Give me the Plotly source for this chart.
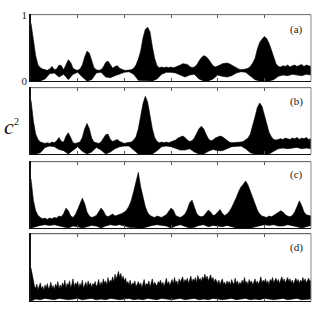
import numpy as np
import plotly.graph_objects as go

# sample grids (time units)
t_up = [round(i * 0.05, 2) for i in range(121)]
t_lo = [round(i * 0.1, 1) for i in range(61)]
t_fine = [round(i * 0.025, 3) for i in range(241)]

a_up = [0.87, 0.62, 0.38, 0.24, 0.20, 0.18, 0.17, 0.16, 0.18, 0.22,
        0.17, 0.18, 0.24, 0.23, 0.17, 0.24, 0.32, 0.28, 0.19, 0.17,
        0.16, 0.18, 0.24, 0.36, 0.45, 0.42, 0.30, 0.20, 0.17, 0.16,
        0.17, 0.21, 0.28, 0.30, 0.25, 0.19, 0.22, 0.23, 0.19, 0.17,
        0.16, 0.16, 0.16, 0.17, 0.19, 0.24, 0.33, 0.45, 0.65, 0.78,
        0.81, 0.74, 0.52, 0.34, 0.23, 0.20, 0.21, 0.20, 0.21, 0.20,
        0.21, 0.20, 0.21, 0.22, 0.24, 0.26, 0.26, 0.25, 0.22, 0.20,
        0.21, 0.24, 0.30, 0.35, 0.38, 0.37, 0.33, 0.28, 0.23, 0.21,
        0.22, 0.24, 0.26, 0.27, 0.27, 0.26, 0.24, 0.21, 0.19, 0.18,
        0.17, 0.17, 0.18, 0.19, 0.22, 0.27, 0.34, 0.48, 0.58, 0.63,
        0.67, 0.64, 0.57, 0.47, 0.35, 0.26, 0.22, 0.21, 0.23, 0.22,
        0.24, 0.21, 0.23, 0.24, 0.22, 0.23, 0.25, 0.22, 0.24, 0.23, 0.22]
a_lo = [0.0, 0.0, 0.0, 0.03, 0.11, 0.12, 0.06, 0.10, 0.02, 0.10,
        0.13, 0.06, 0.0, 0.02, 0.12, 0.13, 0.06, 0.05, 0.08, 0.11,
        0.13, 0.14, 0.10, 0.01, 0.0, 0.0, 0.0, 0.03, 0.10, 0.13,
        0.13, 0.12, 0.09, 0.06, 0.09, 0.10, 0.03, 0.0, 0.0, 0.03,
        0.09, 0.07, 0.06, 0.08, 0.12, 0.14, 0.13, 0.08, 0.02, 0.0,
        0.0, 0.0, 0.02, 0.07, 0.09, 0.08, 0.10, 0.09, 0.08, 0.10, 0.09]

b_up = [0.81, 0.50, 0.30, 0.22, 0.18, 0.17, 0.16, 0.17, 0.16, 0.18,
        0.17, 0.20, 0.25, 0.19, 0.18, 0.27, 0.32, 0.25, 0.17, 0.16,
        0.17, 0.18, 0.25, 0.38, 0.46, 0.38, 0.24, 0.18, 0.17, 0.16,
        0.18, 0.23, 0.29, 0.30, 0.22, 0.19, 0.21, 0.22, 0.19, 0.17,
        0.16, 0.17, 0.17, 0.18, 0.21, 0.26, 0.38, 0.55, 0.76, 0.87,
        0.78, 0.58, 0.38, 0.25, 0.19, 0.17, 0.18, 0.17, 0.18, 0.17,
        0.18, 0.19, 0.21, 0.24, 0.26, 0.27, 0.25, 0.21, 0.19, 0.20,
        0.24, 0.31, 0.38, 0.42, 0.38, 0.30, 0.23, 0.20, 0.21, 0.24,
        0.26, 0.27, 0.26, 0.23, 0.20, 0.18, 0.17, 0.17, 0.18, 0.17,
        0.18, 0.19, 0.21, 0.24, 0.30, 0.42, 0.56, 0.70, 0.77, 0.72,
        0.60, 0.46, 0.33, 0.26, 0.22, 0.21, 0.22, 0.23, 0.22, 0.24,
        0.23, 0.22, 0.24, 0.23, 0.25, 0.22, 0.24, 0.23, 0.25, 0.22, 0.23]
b_lo = [0.0, 0.0, 0.02, 0.10, 0.12, 0.11, 0.07, 0.05, 0.0, 0.06,
        0.11, 0.04, 0.0, 0.03, 0.10, 0.06, 0.0, 0.03, 0.08, 0.11,
        0.12, 0.12, 0.06, 0.0, 0.0, 0.0, 0.0, 0.05, 0.11, 0.12,
        0.11, 0.09, 0.06, 0.06, 0.08, 0.03, 0.0, 0.0, 0.04, 0.07,
        0.05, 0.05, 0.08, 0.11, 0.12, 0.12, 0.08, 0.02, 0.0, 0.0,
        0.0, 0.0, 0.04, 0.08, 0.09, 0.08, 0.09, 0.10, 0.08, 0.09, 0.08]

c_up = [0.74, 0.42, 0.26, 0.19, 0.16, 0.14, 0.15, 0.13, 0.15, 0.14,
        0.16, 0.15, 0.18, 0.17, 0.22, 0.30, 0.26, 0.18, 0.16, 0.20,
        0.28, 0.38, 0.45, 0.37, 0.24, 0.18, 0.16, 0.17, 0.19, 0.24,
        0.30, 0.26, 0.19, 0.17, 0.19, 0.21, 0.18, 0.19, 0.20, 0.22,
        0.24, 0.27, 0.33, 0.42, 0.55, 0.70, 0.84, 0.62, 0.45, 0.32,
        0.23, 0.19, 0.17, 0.16, 0.18, 0.17, 0.16, 0.18, 0.20, 0.25,
        0.30, 0.27, 0.19, 0.17, 0.16, 0.18, 0.21, 0.28, 0.38, 0.42,
        0.32, 0.22, 0.18, 0.17, 0.18, 0.22, 0.27, 0.24, 0.19, 0.20,
        0.24, 0.28, 0.22, 0.19, 0.21, 0.25, 0.31, 0.38, 0.46, 0.55,
        0.62, 0.66, 0.71, 0.65, 0.55, 0.44, 0.35, 0.27, 0.21, 0.18,
        0.17, 0.16, 0.18, 0.17, 0.19, 0.21, 0.24, 0.26, 0.24, 0.20,
        0.18, 0.17, 0.19, 0.24, 0.32, 0.41, 0.34, 0.24, 0.20, 0.19, 0.18]
c_lo = [0.0, 0.02, 0.04, 0.05, 0.04, 0.05, 0.04, 0.02, 0.0, 0.03,
        0.02, 0.0, 0.02, 0.04, 0.03, 0.0, 0.03, 0.05, 0.04, 0.05,
        0.03, 0.01, 0.0, 0.0, 0.0, 0.02, 0.04, 0.05, 0.04, 0.03,
        0.0, 0.03, 0.05, 0.03, 0.0, 0.01, 0.04, 0.05, 0.02, 0.04,
        0.03, 0.02, 0.04, 0.02, 0.0, 0.0, 0.0, 0.0, 0.01, 0.03,
        0.05, 0.04, 0.05, 0.03, 0.03, 0.05, 0.04, 0.02, 0.0, 0.02, 0.04]

# panel (d) is noisy: upper envelope read on the finer grid
d_up = [0.49, 0.38, 0.28, 0.22, 0.19, 0.25, 0.17, 0.21, 0.27, 0.18,
        0.22, 0.16, 0.24, 0.19, 0.26, 0.18, 0.21, 0.28, 0.19, 0.23,
        0.17, 0.25, 0.21, 0.29, 0.18, 0.24, 0.20, 0.27, 0.22, 0.31,
        0.19, 0.26, 0.23, 0.30, 0.20, 0.25, 0.33, 0.21, 0.27, 0.24,
        0.29, 0.20, 0.26, 0.22, 0.31, 0.19, 0.25, 0.28, 0.21, 0.30,
        0.23, 0.27, 0.20, 0.26, 0.24, 0.29, 0.21, 0.25, 0.32, 0.22,
        0.28, 0.24, 0.33, 0.26, 0.30, 0.23, 0.35, 0.27, 0.31, 0.29,
        0.36, 0.28, 0.40, 0.33, 0.38, 0.44, 0.35, 0.41, 0.32, 0.37,
        0.30, 0.34, 0.26, 0.29, 0.24, 0.31, 0.22, 0.27, 0.25, 0.30,
        0.21, 0.26, 0.29, 0.23, 0.27, 0.20, 0.25, 0.32, 0.22, 0.26,
        0.24, 0.30, 0.21, 0.27, 0.33, 0.23, 0.28, 0.25, 0.22, 0.29,
        0.26, 0.31, 0.24, 0.28, 0.22, 0.27, 0.34, 0.25, 0.29, 0.23,
        0.28, 0.32, 0.25, 0.35, 0.27, 0.30, 0.24, 0.33, 0.28, 0.31,
        0.36, 0.27, 0.32, 0.29, 0.34, 0.26, 0.31, 0.37, 0.28, 0.33,
        0.30, 0.35, 0.27, 0.38, 0.31, 0.34, 0.29, 0.36, 0.32, 0.40,
        0.33, 0.37, 0.30, 0.34, 0.39, 0.31, 0.35, 0.28, 0.33, 0.30,
        0.26, 0.31, 0.24, 0.29, 0.33, 0.25, 0.28, 0.23, 0.30, 0.26,
        0.29, 0.24, 0.32, 0.27, 0.25, 0.34, 0.26, 0.30, 0.23, 0.28,
        0.25, 0.31, 0.27, 0.35, 0.26, 0.29, 0.24, 0.32, 0.27, 0.30,
        0.24, 0.28, 0.33, 0.26, 0.30, 0.25, 0.29, 0.36, 0.27, 0.31,
        0.28, 0.33, 0.26, 0.30, 0.24, 0.32, 0.29, 0.35, 0.27, 0.31,
        0.34, 0.28, 0.32, 0.26, 0.30, 0.36, 0.29, 0.33, 0.27, 0.31,
        0.35, 0.29, 0.33, 0.27, 0.31, 0.25, 0.30, 0.34, 0.28, 0.32,
        0.26, 0.31, 0.28, 0.35, 0.29, 0.33, 0.27, 0.30, 0.34, 0.29, 0.31]
d_lo = [0.0, 0.03, 0.02, 0.04, 0.03, 0.02, 0.04, 0.03, 0.02, 0.03,
        0.04, 0.02, 0.03, 0.04, 0.02, 0.03, 0.02, 0.04, 0.03, 0.02,
        0.03, 0.04, 0.02, 0.03, 0.02, 0.04, 0.03, 0.02, 0.04, 0.03,
        0.02, 0.03, 0.04, 0.02, 0.03, 0.04, 0.02, 0.03, 0.02, 0.04,
        0.03, 0.02, 0.03, 0.04, 0.02, 0.03, 0.04, 0.02, 0.03, 0.02,
        0.04, 0.03, 0.02, 0.03, 0.04, 0.02, 0.03, 0.04, 0.02, 0.03, 0.03]

panels = [("(a)", t_up, a_up, a_lo), ("(b)", t_up, b_up, b_lo),
          ("(c)", t_up, c_up, c_lo), ("(d)", t_fine, d_up, d_lo)]

W, H = 314, 309
rows_px = [(9, 78), (85, 154), (162, 231), (237, 307)]
x_dom = [31 / W, 311 / W]

fig = go.Figure()
SERIF = "Liberation Serif, Times New Roman, serif"
DARK = "#111111"
LIGHT = "#8a8a8a"

for k, (lab, tu, up, lo) in enumerate(panels):
    n = k + 1
    xs = tu + t_lo[::-1]
    ys = up + lo[::-1]
    xn = "x" if n == 1 else f"x{n}"
    yn = "y" if n == 1 else f"y{n}"
    fig.add_trace(go.Scatter(
        x=xs, y=ys, mode="lines", fill="toself",
        fillcolor="black", line=dict(color="black", width=0.6),
        xaxis=xn, yaxis=yn, showlegend=False, hoverinfo="skip"))
    top, bot = rows_px[k]
    ydom = [1 - bot / H, 1 - top / H]
    xa = dict(domain=x_dom, range=[0, 6], tickvals=[1, 2, 3, 4, 5],
              ticks="inside", ticklen=3, tickcolor="#555", tickwidth=1,
              showticklabels=False, showline=True, mirror="ticks",
              linecolor=DARK, linewidth=1, showgrid=False, zeroline=False,
              anchor=yn)
    ya = dict(domain=ydom, range=[0, 1], showline=True, mirror=False,
              linecolor=DARK, linewidth=1.5, showgrid=False, zeroline=False,
              ticks="", anchor=xn)
    if n == 1:
        ya.update(tickvals=[0, 1], ticktext=["0", "1"], showticklabels=True,
                  tickfont=dict(family=SERIF, size=11, color="#222"))
    else:
        ya.update(showticklabels=False)
    fig.layout["xaxis" if n == 1 else f"xaxis{n}"] = xa
    fig.layout["yaxis" if n == 1 else f"yaxis{n}"] = ya
    # lighter top and right frame edges
    fig.add_shape(type="line", xref=f"{xn} domain", yref=f"{yn} domain",
                  x0=0, x1=1, y0=1, y1=1, line=dict(color=LIGHT, width=1))
    fig.add_shape(type="line", xref=f"{xn} domain", yref=f"{yn} domain",
                  x0=1, x1=1, y0=0, y1=1, line=dict(color=LIGHT, width=1))
    cy = [24.5, 99, 175, 251.5][k]
    fig.add_annotation(text=lab, x=296 / W, y=1 - cy / H, xref="paper", yref="paper",
                       showarrow=False, xanchor="center", yanchor="middle",
                       font=dict(family=SERIF, size=11, color="#222"))

fig.add_annotation(text="<i>c</i>", x=9 / W, y=1 - 125 / H, xref="paper", yref="paper",
                   showarrow=False, xanchor="center", yanchor="middle",
                   font=dict(family=SERIF, size=22, color="#111"))
fig.add_annotation(text="2", x=16.5 / W, y=1 - 120 / H, xref="paper", yref="paper",
                   showarrow=False, xanchor="center", yanchor="middle",
                   font=dict(family=SERIF, size=10, color="#111"))

fig.update_layout(width=W, height=H, margin=dict(l=0, r=0, t=0, b=0),
                  paper_bgcolor="white", plot_bgcolor="white")
fig.write_html("out.html")
